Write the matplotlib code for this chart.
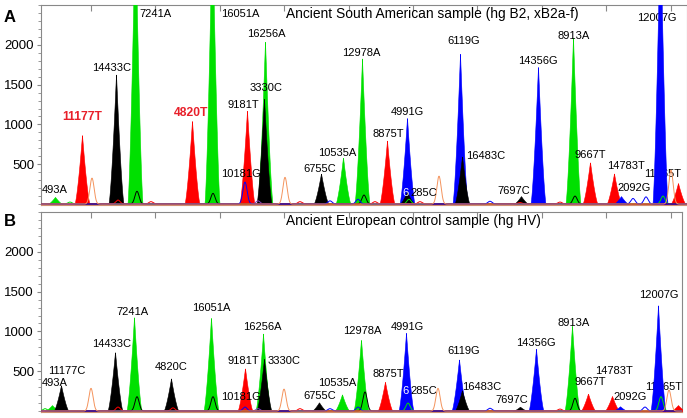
import numpy as np
import matplotlib
matplotlib.use("Agg")
import matplotlib.pyplot as plt
from matplotlib.ticker import MultipleLocator

plt.rcParams["font.family"] = ["Liberation Sans", "DejaVu Sans"]

COLORS = {"G": "#00e000", "R": "#ff0000", "K": "#000000", "B": "#0000ff",
          "O": "#f4935c", "P": "#8040c0"}

# ---- panel A: ancient South American sample ----
a_fill_x = [14, 41, 75, 94, 151, 171, 206, 224, 223, 280, 302, 321, 346,
            366, 366, 419, 421, 480, 497, 532, 549, 573, 580, 619, 637]
a_fill_h = [90, 870, 1640, 3600, 1050, 3600, 1180, 2060, 1340, 385, 590, 1835, 800,
            1090, 155, 1900, 600, 100, 1740, 2110, 530, 385, 100, 3600, 265]
a_fill_c = ["G", "R", "K", "G", "R", "G", "R", "G", "K", "K", "G", "G", "R",
            "B", "K", "B", "K", "K", "B", "G", "R", "R", "B", "B", "R"]

a_line_x = [29, 51, 77, 96, 110, 172, 204, 217, 244, 259, 289, 317, 323, 334,
            368, 379, 398, 449, 479, 519, 534, 592, 605, 622, 630]
a_line_h = [25, 325, 50, 160, 30, 134, 275, 40, 335, 30, 40, 60, 113, 30,
            60, 30, 350, 35, 20, 25, 100, 70, 90, 100, 425]
a_line_c = ["G", "O", "R", "K", "R", "K", "B", "P", "O", "R", "B", "B", "K", "R",
            "G", "R", "O", "B", "R", "R", "K", "B", "B", "G", "O"]

a_labels = ["493A", "11177T", "14433C", "7241A", "4820T", "16051A", "10181G",
            "9181T", "16256A", "3330C", "6755C", "10535A", "12978A", "8875T",
            "4991G", "6285C", "6119G", "16483C", "7697C", "14356G", "8913A",
            "9667T", "14783T", "2092G", "12007G", "11365T"]
a_label_x = [14, 41, 71, 114, 150, 199, 200, 202, 225, 225, 279, 296, 320, 347,
             366, 379, 423, 445, 473, 497, 533, 549, 585, 593, 616, 622]
a_label_y = [175, 1090, 1710, 2390, 1140, 2390, 375, 1240, 2140, 1460, 440, 640,
             1900, 875, 1160, 140, 2050, 600, 160, 1800, 2110, 610, 475, 200, 2340, 375]
a_red = ["11177T", "4820T"]

# ---- panel B: ancient European control sample ----
b_fill_x = [11, 20, 74, 93, 130, 170, 204, 222, 223, 278, 301, 320, 344,
            365, 418, 421, 479, 495, 531, 547, 571, 579, 617, 637]
b_fill_h = [75, 326, 745, 1184, 410, 1184, 540, 974, 660, 110, 210, 903, 368,
            986, 652, 263, 55, 786, 1078, 220, 190, 60, 1338, 75]
b_fill_c = ["G", "K", "K", "G", "K", "G", "R", "G", "K", "K", "G", "G", "R",
            "B", "B", "K", "K", "B", "G", "R", "R", "B", "B", "R"]

b_line_x = [4, 50, 77, 96, 132, 172, 204, 217, 243, 259, 289, 317, 324, 367,
            397, 449, 519, 534, 604, 620, 628]
b_line_h = [30, 285, 50, 180, 40, 180, 50, 30, 275, 30, 30, 50, 240, 100,
            285, 35, 25, 160, 50, 180, 263]
b_line_c = ["G", "O", "R", "K", "R", "K", "B", "P", "O", "R", "B", "B", "K", "G",
            "O", "B", "R", "K", "B", "G", "O"]

b_labels = ["493A", "11177C", "14433C", "7241A", "4820C", "16051A", "10181G",
            "9181T", "16256A", "3330C", "6755C", "10535A", "12978A", "8875T",
            "4991G", "6285C", "6119G", "16483C", "7697C", "14356G", "8913A",
            "9667T", "14783T", "2092G", "12007G", "11365T"]
b_label_x = [14, 26, 71, 91, 130, 170, 200, 202, 221, 243, 279, 296, 321, 347,
             366, 379, 423, 441, 471, 495, 533, 549, 573, 589, 618, 623]
b_label_y = [350, 500, 840, 1240, 550, 1290, 175, 625, 1060, 625, 190, 350, 1000,
             460, 1060, 250, 750, 300, 140, 860, 1110, 360, 500, 175, 1460, 300]

# labels that sit underneath the peaks in the original trace view
behind = ["12007G", "11365T"]
# label whose first digit shows white over the blue peak
knockout = "6285C"


def peak(x, x0, h, w=7.6, q=1.4):
    # pointed, slightly concave peak as drawn by the sequencer software
    return h * np.clip(1 - np.abs(x - x0) / w, 0, None) ** q


def bump(x, x0, h, s=3.0):
    return h * np.exp(-((x - x0) / s) ** 2)


def draw_panel(fig, ax, fx, fh, fc, lx, lh, lc, labels, tx, ty, red, title, xmax):
    x = np.linspace(0, xmax, 4000)
    for x0, h, c in zip(fx, fh, fc):
        y = peak(x, x0, h)
        m = y > 0
        ax.fill_between(x[m], 0, y[m], color=COLORS[c], lw=0.4, zorder=3)
    for c in ["P", "G", "K", "R", "B", "O"]:
        y = np.zeros_like(x)
        for x0, h, cc in zip(lx, lh, lc):
            if cc == c:
                y += bump(x, x0, h)
        ax.plot(x, y, color=COLORS[c], lw=0.7, zorder=4)
    rend = fig.canvas.get_renderer()
    for t, xx, yy in zip(labels, tx, ty):
        z = 2 if t in behind else 5
        if t in red:
            ax.text(xx, yy, t, color="#e8202a", fontsize=8.7, fontweight="bold",
                    ha="center", va="center", zorder=z)
        elif t == knockout:
            # measure full label, then draw first digit white, rest black
            tmp = ax.text(xx, yy, t, fontsize=8, ha="center", va="center")
            bb = tmp.get_window_extent(renderer=rend)
            tmp.remove()
            inv = ax.transData.inverted()
            x_left = inv.transform((bb.x0, bb.y0))[0]
            x_right = inv.transform((bb.x1, bb.y0))[0]
            ax.text(x_left, yy, t[0], color="white", fontsize=8,
                    ha="left", va="center", zorder=6)
            ax.text(x_right, yy, t[1:], color="black", fontsize=8,
                    ha="right", va="center", zorder=5)
        else:
            ax.text(xx, yy, t, color="black", fontsize=8,
                    ha="center", va="center", zorder=z)
    ax.text(245, 2390, title, fontsize=9.9, ha="left", va="center", zorder=5)
    ax.set_xlim(0, xmax)
    ax.set_ylim(-12, 2500)
    ax.set_yticks([500, 1000, 1500, 2000])
    ax.yaxis.set_minor_locator(MultipleLocator(100))
    ax.tick_params(axis="y", which="major", labelsize=9.5, length=3,
                   color="#888888", pad=2)
    ax.tick_params(axis="y", which="minor", length=2, color="#888888")
    ax.set_xticks(np.arange(50, xmax, 64.4))
    ax.tick_params(axis="x", which="both", bottom=False, labelbottom=False,
                   top=True, direction="in", length=4, color="#888888")
    for s in ax.spines.values():
        s.set_color("#888888")
        s.set_linewidth(0.8)
    ax.spines["bottom"].set_color("#d09070")


fig = plt.figure(figsize=(6.87, 4.18), dpi=100)
axA = fig.add_axes([41 / 687, 1 - 205 / 418, 646 / 687, 200 / 418])
axB = fig.add_axes([41 / 687, 1 - 412 / 418, 641 / 687, 200 / 418])

draw_panel(fig, axA, a_fill_x, a_fill_h, a_fill_c, a_line_x, a_line_h, a_line_c,
           a_labels, a_label_x, a_label_y, a_red,
           "Ancient South American sample (hg B2, xB2a-f)", 646)
draw_panel(fig, axB, b_fill_x, b_fill_h, b_fill_c, b_line_x, b_line_h, b_line_c,
           b_labels, b_label_x, b_label_y, [],
           "Ancient European control sample (hg HV)", 641)

fig.text(10 / 687, 1 - 17 / 418, "A", fontsize=12, fontweight="bold",
         ha="center", va="center")
fig.text(10 / 687, 1 - 222 / 418, "B", fontsize=12, fontweight="bold",
         ha="center", va="center")

fig.savefig("out.png", dpi=100)
